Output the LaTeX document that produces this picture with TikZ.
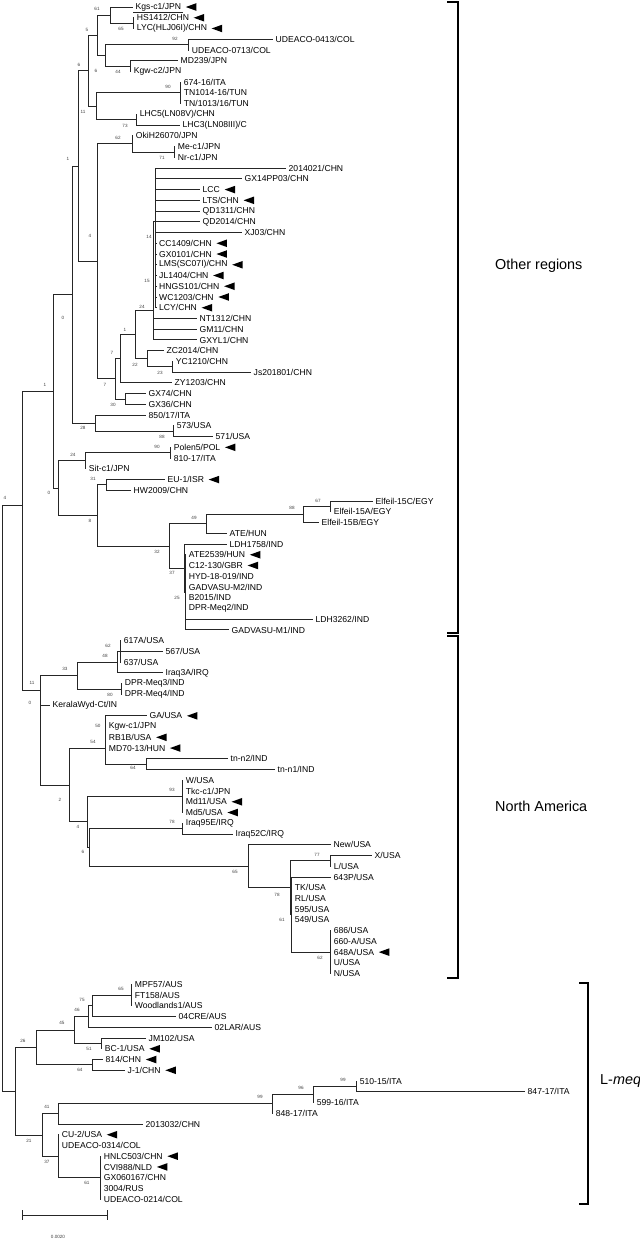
\documentclass[tikz,border=0pt]{standalone}
\usepackage{fontspec}
\setmainfont{Liberation Sans}
\newcommand\RY[1]{10.74*(#1)-3.74}
\newcommand\tleaf[4]{\coordinate (#1) at (#2,{\RY{#3}});\node[leaf] (#1t) at ([xshift=2.5pt]#1) {#4};}
\newcommand\tnode[3]{\coordinate (#1) at (#2,{\RY{#3}});}
\newcommand\tkids[2]{\foreach \cc in {#2}{\draw[br] (#1) |- (\cc);}}
\newcommand\tbs[3]{\node[bs] at (#1,#2) {#3};}
\newcommand\tarr[1]{\fill ([xshift=4.5pt]#1t.east) -- ++(10.5,-3.8) -- ++(0,7.6) -- cycle;}
\begin{document}
\begin{tikzpicture}[x=1pt,y=-1pt,
  br/.style={line width=0.9pt, draw=black!85},
  leaf/.style={anchor=west, inner sep=0pt, font=\fontsize{8.6}{9}\selectfont},
  bs/.style={inner sep=0pt, font=\fontsize{4.6}{5}\selectfont, text=black!75},
  grp/.style={anchor=west, inner sep=0pt, font=\fontsize{14.4}{16}\selectfont},
  brk/.style={line width=1.1pt, draw=black}]
\useasboundingbox[fill=white] (0,0) rectangle (640,1240);
% ---------------- leaves ----------------
\tleaf{L1}{133}{1}{Kgs-c1/JPN}
\tleaf{L2}{134.2}{2}{HS1412/CHN}
\tleaf{L3}{134.2}{3}{LYC(HLJ06I)/CHN}
\tleaf{L4}{273}{4}{UDEACO-0413/COL}
\tleaf{L5}{189.2}{5}{UDEACO-0713/COL}
\tleaf{L6}{178}{6}{MD239/JPN}
\tleaf{L7}{131.2}{7}{Kgw-c2/JPN}
\tleaf{L8}{181.2}{8}{674-16/ITA}
\tleaf{L9}{181.2}{9}{TN1014-16/TUN}
\tleaf{L10}{181.2}{10}{TN/1013/16/TUN}
\tleaf{L11}{137.2}{11}{LHC5(LN08V)/CHN}
\tleaf{L12}{180}{12}{LHC3(LN08III)/C}
\tleaf{L13}{133.2}{13}{OkiH26070/JPN}
\tleaf{L14}{175.2}{14}{Me-c1/JPN}
\tleaf{L15}{175.2}{15}{Nr-c1/JPN}
\tleaf{L16}{286}{16}{2014021/CHN}
\tleaf{L17}{242}{17}{GX14PP03/CHN}
\tleaf{L18}{200}{18}{LCC}
\tleaf{L19}{200}{19}{LTS/CHN}
\tleaf{L20}{200}{20}{QD1311/CHN}
\tleaf{L21}{200}{21}{QD2014/CHN}
\tleaf{L22}{242}{22}{XJ03/CHN}
\tleaf{L23}{156.5}{23}{CC1409/CHN}
\tleaf{L24}{156.5}{24}{GX0101/CHN}
\tleaf{L25}{156.5}{25}{LMS(SC07I)/CHN}
\tleaf{L26}{156.5}{26}{JL1404/CHN}
\tleaf{L27}{156.5}{27}{HNGS101/CHN}
\tleaf{L28}{156.5}{28}{WC1203/CHN}
\tleaf{L29}{156.5}{29}{LCY/CHN}
\tleaf{L30}{197}{30}{NT1312/CHN}
\tleaf{L31}{197}{31}{GM11/CHN}
\tleaf{L32}{197}{32}{GXYL1/CHN}
\tleaf{L33}{164}{33}{ZC2014/CHN}
\tleaf{L34}{173.2}{34}{YC1210/CHN}
\tleaf{L35}{251}{35}{Js201801/CHN}
\tleaf{L36}{172}{36}{ZY1203/CHN}
\tleaf{L37}{146}{37}{GX74/CHN}
\tleaf{L38}{146}{38}{GX36/CHN}
\tleaf{L39}{146}{39}{850/17/ITA}
\tleaf{L40}{174.2}{40}{573/USA}
\tleaf{L41}{213}{41}{571/USA}
\tleaf{L42}{171.2}{42}{Polen5/POL}
\tleaf{L43}{171.2}{43}{810-17/ITA}
\tleaf{L44}{86.2}{44}{Sit-c1/JPN}
\tleaf{L45}{165}{45}{EU-1/ISR}
\tleaf{L46}{131}{46}{HW2009/CHN}
\tleaf{L47}{373}{47}{Elfeil-15C/EGY}
\tleaf{L48}{331.2}{48}{Elfeil-15A/EGY}
\tleaf{L49}{319}{49}{Elfeil-15B/EGY}
\tleaf{L50}{227}{50}{ATE/HUN}
\tleaf{L51}{227}{51}{LDH1758/IND}
\tleaf{L52}{186.2}{52}{ATE2539/HUN}
\tleaf{L53}{186.2}{53}{C12-130/GBR}
\tleaf{L54}{186.2}{54}{HYD-18-019/IND}
\tleaf{L55}{186.2}{55}{GADVASU-M2/IND}
\tleaf{L56}{186.2}{56}{B2015/IND}
\tleaf{L57}{186.2}{57}{DPR-Meq2/IND}
\tleaf{L58}{313}{58}{LDH3262/IND}
\tleaf{L59}{229}{59}{GADVASU-M1/IND}
\tleaf{L60}{121.2}{60}{617A/USA}
\tleaf{L61}{163}{61}{567/USA}
\tleaf{L62}{121.2}{62}{637/USA}
\tleaf{L63}{163}{63}{Iraq3A/IRQ}
\tleaf{L64}{122.2}{64}{DPR-Meq3/IND}
\tleaf{L65}{122.2}{65}{DPR-Meq4/IND}
\tleaf{L66}{50}{66}{KeralaWyd-Ct/IN}
\tleaf{L67}{147}{67}{GA/USA}
\tleaf{L68}{106.2}{68}{Kgw-c1/JPN}
\tleaf{L69}{106.2}{69}{RB1B/USA}
\tleaf{L70}{106.2}{70}{MD70-13/HUN}
\tleaf{L71}{228}{71}{tn-n2/IND}
\tleaf{L72}{275}{72}{tn-n1/IND}
\tleaf{L73}{183.2}{73}{W/USA}
\tleaf{L74}{183.2}{74}{Tkc-c1/JPN}
\tleaf{L75}{183.2}{75}{Md11/USA}
\tleaf{L76}{183.2}{76}{Md5/USA}
\tleaf{L77}{183.2}{77}{Iraq95E/IRQ}
\tleaf{L78}{233}{78}{Iraq52C/IRQ}
\tleaf{L79}{331}{79}{New/USA}
\tleaf{L80}{372}{80}{X/USA}
\tleaf{L81}{331.2}{81}{L/USA}
\tleaf{L82}{331}{82}{643P/USA}
\tleaf{L83}{292.2}{83}{TK/USA}
\tleaf{L84}{292.2}{84}{RL/USA}
\tleaf{L85}{292.2}{85}{595/USA}
\tleaf{L86}{292.2}{86}{549/USA}
\tleaf{L87}{331.2}{87}{686/USA}
\tleaf{L88}{331.2}{88}{660-A/USA}
\tleaf{L89}{331.2}{89}{648A/USA}
\tleaf{L90}{331.2}{90}{U/USA}
\tleaf{L91}{331.2}{91}{N/USA}
\tleaf{L92}{132.2}{92}{MPF57/AUS}
\tleaf{L93}{132.2}{93}{FT158/AUS}
\tleaf{L94}{132.2}{94}{Woodlands1/AUS}
\tleaf{L95}{176}{95}{04CRE/AUS}
\tleaf{L96}{212}{96}{02LAR/AUS}
\tleaf{L97}{146}{97}{JM102/USA}
\tleaf{L98}{102.2}{98}{BC-1/USA}
\tleaf{L99}{103}{99}{814/CHN}
\tleaf{L100}{125}{100}{J-1/CHN}
\tleaf{L101}{357.2}{101}{510-15/ITA}
\tleaf{L102}{525}{102}{847-17/ITA}
\tleaf{L103}{314.2}{103}{599-16/ITA}
\tleaf{L104}{273.2}{104}{848-17/ITA}
\tleaf{L105}{143}{105}{2013032/CHN}
\tleaf{L106}{59.2}{106}{CU-2/USA}
\tleaf{L107}{59.2}{107}{UDEACO-0314/COL}
\tleaf{L108}{101.2}{108}{HNLC503/CHN}
\tleaf{L109}{101.2}{109}{CVI988/NLD}
\tleaf{L110}{101.2}{110}{GX060167/CHN}
\tleaf{L111}{101.2}{111}{3004/RUS}
\tleaf{L112}{101.2}{112}{UDEACO-0214/COL}
% ---------------- internal nodes ----------------
\tnode{n65}{133}{2.5}
\tnode{n61}{110}{1.75}
\tnode{n92}{188}{4.5}
\tnode{n44}{130}{6.5}
\tnode{n6b}{105}{5.5}
\tnode{n5}{97}{3.625}
\tnode{n90}{180}{9}
\tnode{n73}{136}{11.5}
\tnode{n11}{96}{10.25}
\tnode{n6}{88}{6.9375}
\tnode{n71}{174}{14.5}
\tnode{n62}{132}{13.75}
\tnode{n15}{155}{26}
\tnode{n14}{155}{21}
\tnode{n24}{153}{29.25}
\tnode{n23}{172}{34.5}
\tnode{n22}{147}{33.75}
\tnode{n1b}{135}{31.5}
\tnode{n7a}{120}{33.75}
\tnode{n30}{125}{37.5}
\tnode{n7b}{115}{35.625}
\tnode{n4}{97}{24.69}
\tnode{n1}{78}{15.81}
\tnode{n88b}{173}{40.5}
\tnode{n28}{95}{39.75}
\tnode{n0a}{72}{27.78}
\tnode{n90b}{170}{42.5}
\tnode{n24b}{85}{43.25}
\tnode{n31}{106}{45.5}
\tnode{n67}{330}{47.5}
\tnode{n88}{303}{48.25}
\tnode{n49}{206}{49.125}
\tnode{n35}{185}{55.5}
\tnode{n37}{184}{53.25}
\tnode{n32}{169}{51.19}
\tnode{n8}{97}{48.34}
\tnode{n0b}{58}{45.8}
\tnode{n1c}{53}{36.79}
\tnode{n62b}{120}{61}
\tnode{n48}{117}{62}
\tnode{n80}{121}{64.5}
\tnode{n33}{77}{63.25}
\tnode{n11b}{40}{64.625}
\tnode{n50}{105}{68.5}
\tnode{n64}{146}{71.5}
\tnode{n54}{105}{70}
\tnode{n93}{182}{74.5}
\tnode{n78}{182}{77.5}
\tnode{n77}{330}{80.5}
\tnode{n62c}{330}{89}
\tnode{n61b}{291}{85.5}
\tnode{n78b}{290}{83}
\tnode{n65b}{248}{81}
\tnode{n6c}{89}{79.25}
\tnode{n4b}{87}{76.875}
\tnode{n2}{69}{73.44}
\tnode{n0c}{40}{64.625}
\tnode{nA}{22}{47.4}
\tnode{n65c}{131}{93}
\tnode{n75}{92}{94}
\tnode{n46}{88}{95}
\tnode{n51}{101}{97.5}
\tnode{n45}{74}{96.25}
\tnode{n64c}{92}{99.5}
\tnode{n26}{36}{97.875}
\tnode{n99a}{356}{101.5}
\tnode{n96}{313}{102.25}
\tnode{n99b}{272}{103.125}
\tnode{n41}{58}{104.06}
\tnode{n61c}{100}{110}
\tnode{n37b}{58}{108}
\tnode{n21}{42}{106.03}
\tnode{nL}{15}{101.95}
\tnode{root}{2}{74.7}
% ---------------- branches ----------------
\tkids{n65}{L2,L3}
\tkids{n61}{L1,n65}
\tkids{n92}{L4,L5}
\tkids{n44}{L6,L7}
\tkids{n6b}{n92,n44}
\tkids{n5}{n61,n6b}
\tkids{n90}{L8,L9,L10}
\tkids{n73}{L11,L12}
\tkids{n11}{n90,n73}
\tkids{n6}{n5,n11}
\tkids{n71}{L14,L15}
\tkids{n62}{L13,n71}
\tkids{n15}{L23,L24,L25,L26,L27,L28,L29}
\tkids{n14}{L16,L17,L18,L19,L20,L21,L22,n15}
\tkids{n24}{n14,L30,L31,L32}
\tkids{n23}{L34,L35}
\tkids{n22}{L33,n23}
\tkids{n1b}{n24,n22}
\tkids{n7a}{n1b,L36}
\tkids{n30}{L37,L38}
\tkids{n7b}{n7a,n30}
\tkids{n4}{n62,n7b}
\tkids{n1}{n6,n4}
\tkids{n88b}{L40,L41}
\tkids{n28}{L39,n88b}
\tkids{n0a}{n1,n28}
\tkids{n90b}{L42,L43}
\tkids{n24b}{n90b,L44}
\tkids{n31}{L45,L46}
\tkids{n67}{L47,L48}
\tkids{n88}{n67,L49}
\tkids{n49}{n88,L50}
\tkids{n35}{L52,L53,L54,L55,L56,L57,L58,L59}
\tkids{n37}{L51,n35}
\tkids{n32}{n49,n37}
\tkids{n8}{n31,n32}
\tkids{n0b}{n24b,n8}
\tkids{n1c}{n0a,n0b}
\tkids{n62b}{L60,L61,L62}
\tkids{n48}{n62b,L63}
\tkids{n80}{L64,L65}
\tkids{n33}{n48,n80}
\tkids{n11b}{n33,L66}
\tkids{n50}{L67,L68,L69,L70}
\tkids{n64}{L71,L72}
\tkids{n54}{n50,n64}
\tkids{n93}{L73,L74,L75,L76}
\tkids{n78}{L77,L78}
\tkids{n77}{L80,L81}
\tkids{n62c}{L87,L88,L89,L90,L91}
\tkids{n61b}{L82,L83,L84,L85,L86,n62c}
\tkids{n78b}{n77,n61b}
\tkids{n65b}{L79,n78b}
\tkids{n6c}{n78,n65b}
\tkids{n4b}{n93,n6c}
\tkids{n2}{n54,n4b}
\tkids{n0c}{n11b,n2}
\tkids{nA}{n1c,n0c}
\tkids{n65c}{L92,L93,L94}
\tkids{n75}{n65c,L95}
\tkids{n46}{n75,L96}
\tkids{n51}{L97,L98}
\tkids{n45}{n46,n51}
\tkids{n64c}{L99,L100}
\tkids{n26}{n45,n64c}
\tkids{n99a}{L101,L102}
\tkids{n96}{n99a,L103}
\tkids{n99b}{n96,L104}
\tkids{n41}{n99b,L105}
\tkids{n61c}{L108,L109,L110,L111,L112}
\tkids{n37b}{L106,L107,n61c}
\tkids{n21}{n41,n37b}
\tkids{nL}{n26,n21}
\tkids{root}{nA,nL}
\draw[br] (133,12.7) -- (183,12.7);
% ---------------- arrowheads ----------------
\foreach \a in {L1,L2,L3,L18,L19,L23,L24,L25,L26,L27,L28,L29,L42,L45,L52,L53,L67,L69,L70,L75,L76,L89,L98,L99,L100,L106,L108,L109}{\tarr{\a}}
% ---------------- bootstrap values ----------------
\tbs{97}{9}{61}\tbs{121}{29}{65}\tbs{87}{30}{5}\tbs{175}{39}{92}
\tbs{79}{65}{6}\tbs{96}{71}{6}\tbs{118}{72}{44}\tbs{168}{87}{90}
\tbs{83}{112}{11}\tbs{125}{126}{73}\tbs{118}{138}{62}\tbs{162}{158}{71}
\tbs{68}{159}{1}\tbs{149}{237}{14}\tbs{90}{236}{4}\tbs{147}{281}{15}
\tbs{142}{307}{24}\tbs{63}{318}{0}\tbs{125}{330}{1}\tbs{112}{353}{7}
\tbs{135}{365}{22}\tbs{160}{373}{23}\tbs{105}{385}{7}\tbs{45}{385}{1}
\tbs{113}{405}{30}\tbs{83}{428}{28}\tbs{162}{437}{88}\tbs{157}{447}{90}
\tbs{73}{455}{24}\tbs{93}{479}{31}\tbs{49}{493}{0}\tbs{90}{521}{8}
\tbs{194}{518}{49}\tbs{292}{508}{88}\tbs{318}{501}{67}\tbs{157}{552}{32}
\tbs{172}{573}{37}\tbs{177}{598}{25}\tbs{5}{498}{4}
\tbs{108}{646}{62}\tbs{105}{656}{48}\tbs{65}{669}{33}\tbs{32}{683}{11}
\tbs{110}{695}{80}\tbs{30}{703}{0}\tbs{98}{726}{50}\tbs{93}{742}{54}
\tbs{133}{768}{64}\tbs{60}{800}{2}\tbs{172}{790}{93}\tbs{172}{822}{78}
\tbs{78}{827}{4}\tbs{83}{852}{6}\tbs{235}{872}{65}\tbs{317}{855}{77}
\tbs{277}{895}{78}\tbs{282}{920}{61}\tbs{320}{958}{62}
\tbs{121}{989}{65}\tbs{82}{1000}{75}\tbs{77}{1010}{46}\tbs{62}{1023}{45}
\tbs{23}{1041}{26}\tbs{89}{1049}{51}\tbs{80}{1070}{64}\tbs{343}{1080}{99}
\tbs{301}{1088}{96}\tbs{260}{1097}{99}\tbs{47}{1107}{41}\tbs{29}{1141}{21}
\tbs{47}{1162}{37}\tbs{87}{1183}{61}
% ---------------- group brackets ----------------
\draw[brk] (447,2) -- (458,2) -- (458,633) -- (447,633);
\draw[brk] (447,636) -- (458,636) -- (458,978) -- (447,978);
\draw[brk] (579,983) -- (588,983) -- (588,1204) -- (579,1204);
\node[grp] (gOR) at (495,266) {Other regions};
\node[grp] (gNA) at (495,806) {North America};
\node[grp] (gL) at (600,1081) {L-\textit{meq}};
% ---------------- scale bar ----------------
\draw[br] (22,1215) -- (107,1215);
\draw[br] (22,1210) -- (22,1220);
\draw[br] (107,1210) -- (107,1220);
\node[bs] at (58,1237) {0.0020};
\end{tikzpicture}
\end{document}
